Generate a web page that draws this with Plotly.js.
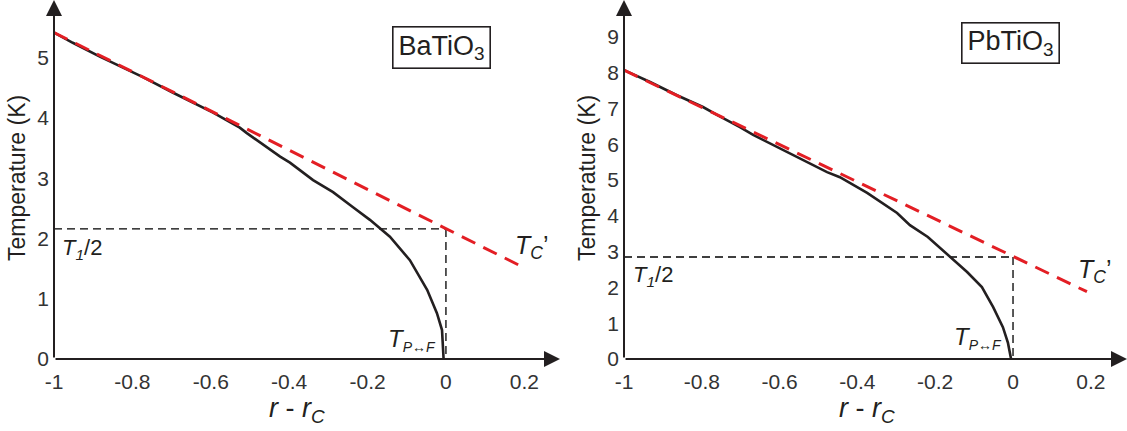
<!DOCTYPE html>
<html>
<head>
<meta charset="utf-8">
<script src="https://cdn.plot.ly/plotly-3.0.1.min.js"></script>
<style>html,body{margin:0;padding:0;background:#fff;}#chart{width:1127px;height:431px;}</style>
</head>
<body>
<div id="chart"></div>
<script>
// ---- Data ----
// BaTiO3 (left panel)
const baR = [-1.0, -0.952, -0.883, -0.814, -0.773, -0.696, -0.594, -0.526, -0.508, -0.423, -0.398, -0.339, -0.288, -0.237, -0.194, -0.143, -0.092, -0.048, -0.023, -0.010, -0.006];
const baT = [5.42, 5.25, 5.02, 4.80, 4.68, 4.42, 4.09, 3.84, 3.75, 3.36, 3.26, 2.97, 2.77, 2.52, 2.31, 2.03, 1.64, 1.15, 0.76, 0.48, 0.0];
const baTcR = [-1.0, 0.195];
const baTcT = [5.42, 1.53];
const baHalfT1 = 2.16;

// PbTiO3 (right panel)
const pbR = [-1.0, -0.933, -0.864, -0.797, -0.761, -0.702, -0.668, -0.607, -0.540, -0.478, -0.445, -0.375, -0.298, -0.265, -0.219, -0.162, -0.118, -0.080, -0.051, -0.026, -0.013, -0.005];
const pbT = [8.07, 7.74, 7.37, 7.04, 6.82, 6.48, 6.26, 5.92, 5.56, 5.22, 5.08, 4.64, 4.08, 3.74, 3.41, 2.85, 2.43, 2.01, 1.45, 0.89, 0.45, 0.0];
const pbTcR = [-1.0, 0.19];
const pbTcT = [8.07, 1.88];
const pbHalfT1 = 2.85;

// Ticks
const xTickVals = [-1, -0.8, -0.6, -0.4, -0.2, 0, 0.2];
const xTickText = ['-1', '-0.8', '-0.6', '-0.4', '-0.2', '0', '0.2'];
const yTickValsBa = [0, 1, 2, 3, 4, 5];
const yTickValsPb = [0, 1, 2, 3, 4, 5, 6, 7, 8, 9];

const labelsBox = ['BaTiO<sub>3</sub>', 'PbTiO<sub>3</sub>'];
const yTitle = 'Temperature (K)';
const xTitle = '<i>r</i> - <i>r<sub>C</sub></i>';
const halfLabel = '<i>T<sub>1</sub></i>/2';
const tcLabel = '<i>T<sub>C</sub></i>\u2019';
const tpfLabel = '<i>T<sub><span style="font-size:14px">P\u2194F</span></sub></i>';

// ---- Styles ----
const INK = '#231f20';
const RED = '#e31e24';
const FONT = 'Liberation Sans, Arial, sans-serif';

function panelTraces(r, t, tcR, tcT, half, xa, ya) {
  return [
    {x: [-1, 0], y: [half, half], xaxis: xa, yaxis: ya, mode: 'lines', line: {color: '#000', width: 1.3, dash: '8px,5px'}, hoverinfo: 'skip'},
    {x: [0, 0], y: [half, 0], xaxis: xa, yaxis: ya, mode: 'lines', line: {color: '#000', width: 1.3, dash: '8px,5px'}, hoverinfo: 'skip'},
    {x: r, y: t, xaxis: xa, yaxis: ya, mode: 'lines', line: {color: INK, width: 2.6}},
    {x: tcR, y: tcT, xaxis: xa, yaxis: ya, mode: 'lines', line: {color: RED, width: 3, dash: '15px,9px'}}
  ];
}

const data = [].concat(
  panelTraces(baR, baT, baTcR, baTcT, baHalfT1, 'x', 'y'),
  panelTraces(pbR, pbT, pbTcR, pbTcT, pbHalfT1, 'x2', 'y2')
);

const axisCommon = {
  showgrid: false, zeroline: false, showline: false, ticks: '',
  tickfont: {family: FONT, size: 21, color: '#333'}, fixedrange: true
};

const xRangeBa = [-1, 0.291];
const yRangeBa = [0, 5.96];
const xRangePb = [-1, 0.293];
const yRangePb = [0, 10.03];

function axisArrow(xref, yref, x0, y0, x1, y1) {
  return {xref: xref, yref: yref, axref: xref, ayref: yref, x: x1, y: y1, ax: x0, ay: y0,
    text: '', showarrow: true, arrowhead: 2, arrowsize: 1.6, arrowwidth: 2, arrowcolor: INK};
}

function lbl(xref, yref, x, y, text, size, xanchor, yanchor) {
  return {xref: xref, yref: yref, x: x, y: y, text: text, showarrow: false,
    xanchor: xanchor || 'left', yanchor: yanchor || 'top',
    font: {family: FONT, size: size, color: INK}};
}

const annotations = [
  axisArrow('x', 'y', -1, 0, xRangeBa[1], 0),
  axisArrow('x', 'y', -1, 0, -1, yRangeBa[1]),
  axisArrow('x2', 'y2', -1, 0, xRangePb[1], 0),
  axisArrow('x2', 'y2', -1, 0, -1, yRangePb[1]),
  // boxes
  {xref: 'paper', yref: 'paper', x: 441.5/1127, y: 1 - 47.5/431, text: labelsBox[0], showarrow: false,
   xanchor: 'center', yanchor: 'middle', width: 96, height: 40, borderwidth: 1.6, bordercolor: INK, borderpad: 0,
   font: {family: FONT, size: 27, color: INK}},
  {xref: 'paper', yref: 'paper', x: 1010.5/1127, y: 1 - 43/431, text: labelsBox[1], showarrow: false,
   xanchor: 'center', yanchor: 'middle', width: 96, height: 39, borderwidth: 1.6, bordercolor: INK, borderpad: 0,
   font: {family: FONT, size: 27, color: INK}},
  // axis titles
  {xref: 'paper', yref: 'paper', x: 17/1127, y: 1 - 178/431, text: yTitle, textangle: -90, showarrow: false,
   xanchor: 'center', yanchor: 'middle', font: {family: FONT, size: 23, color: INK}},
  {xref: 'paper', yref: 'paper', x: 587/1127, y: 1 - 178/431, text: yTitle, textangle: -90, showarrow: false,
   xanchor: 'center', yanchor: 'middle', font: {family: FONT, size: 23, color: INK}},
  {xref: 'paper', yref: 'paper', x: 297/1127, y: 1 - 410/431, text: xTitle, showarrow: false,
   xanchor: 'center', yanchor: 'middle', font: {family: FONT, size: 27, color: INK}},
  {xref: 'paper', yref: 'paper', x: 867/1127, y: 1 - 410/431, text: xTitle, showarrow: false,
   xanchor: 'center', yanchor: 'middle', font: {family: FONT, size: 27, color: INK}},
  // in-plot labels
  lbl('x', 'y', -0.985, 2.1, halfLabel, 22),
  lbl('x2', 'y2', -0.982, 2.77, halfLabel, 22),
  lbl('x', 'y', 0.172, 2.16, tcLabel, 25),
  lbl('x2', 'y2', 0.163, 2.95, tcLabel, 25),
  lbl('x', 'y', -0.021, 0.6, tpfLabel, 24, 'right'),
  lbl('x2', 'y2', -0.024, 1.05, tpfLabel, 24, 'right')
];

const layout = {
  width: 1127, height: 431,
  margin: {l: 0, r: 0, t: 0, b: 0},
  paper_bgcolor: '#fff', plot_bgcolor: 'rgba(0,0,0,0)',
  showlegend: false,
  font: {family: FONT, color: INK},
  xaxis: Object.assign({}, axisCommon, {domain: [54/1127, 560/1127], range: xRangeBa, tickvals: xTickVals, ticktext: xTickText, anchor: 'y', ticklabelstandoff: 8}),
  yaxis: Object.assign({}, axisCommon, {domain: [72/431, 1], range: yRangeBa, tickvals: yTickValsBa, anchor: 'x', ticklabelstandoff: 4}),
  xaxis2: Object.assign({}, axisCommon, {domain: [624/1127, 1], range: xRangePb, tickvals: xTickVals, ticktext: xTickText, anchor: 'y2', ticklabelstandoff: 8}),
  yaxis2: Object.assign({}, axisCommon, {domain: [72/431, 1], range: yRangePb, tickvals: yTickValsPb, anchor: 'x2', ticklabelstandoff: 4}),
  annotations: annotations
};

Plotly.newPlot('chart', data, layout, {displayModeBar: false, staticPlot: true});
</script>
</body>
</html>
